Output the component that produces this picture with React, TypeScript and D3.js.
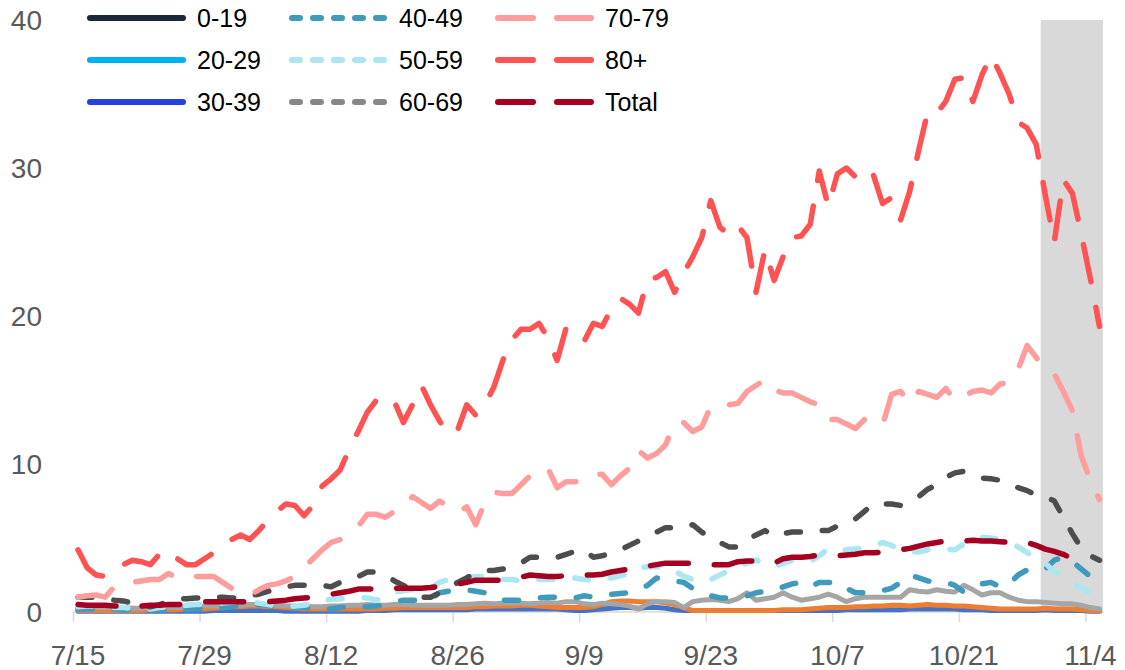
import React from 'react';
import * as d3 from 'd3';

// categories: one per day, 7/15 .. 11/5
const dates = d3
  .timeDay.range(new Date(2020, 6, 15), new Date(2020, 10, 6))
  .map(d3.timeFormat('%-m/%-d'));

const tickLabels = ['7/15', '7/29', '8/12', '8/26', '9/9', '9/23', '10/7', '10/21', '11/4'];
const yTicks = [0, 10, 20, 30, 40];
const shadedFrom = '10/30';

const age80 = [
  4.2, 3.0, 2.5, 2.4, 2.8, 3.2, 3.5, 3.4, 3.2, 3.9,
  4.2, 3.6, 3.2, 3.2, 3.6, 4.0, 4.4, 4.9, 5.2, 4.9,
  5.5, 6.2, 6.8, 7.3, 7.2, 6.5, 7.2, 8.5, 9.0, 9.6,
  11.0, 12.2, 13.5, 14.3, 14.6, 14.2, 12.8, 14.0, 15.3, 14.0,
  12.9, 12.0, 12.3, 14.0, 13.3, 14.0, 15.2, 17.0, 18.4, 19.1,
  19.1, 19.5, 18.5, 17.0, 19.2, 18.8, 18.3, 19.5, 19.3, 20.5,
  21.2, 20.8, 20.2, 22.5, 22.6, 23.0, 21.6, 22.9, 24.0, 25.3,
  27.8, 26.0, 25.5, 26.1, 25.3, 21.6, 24.5, 22.4, 24.0, 25.3,
  25.4, 26.2, 29.8, 27.4, 29.6, 30.0, 29.4, 28.9, 29.5, 27.6,
  28.0, 26.5, 28.4, 31.2, 33.8, 33.7, 34.5, 36.0, 36.1, 34.5,
  36.3, 37.6, 36.4, 35.0, 33.1, 32.7, 31.6, 28.2, 25.0, 29.2,
  28.3, 25.5, 22.5, 19.3,
];

const age7079 = [
  1.0, 1.1, 1.15, 1.0, 1.7, 2.0, 2.0, 2.1, 2.2, 2.2,
  2.6, 2.3, 2.4, 2.4, 2.4, 2.4, 2.0, 1.6, 1.4, 1.15,
  1.5, 1.8, 1.9, 2.1, 2.4, 3.0, 3.6, 4.2, 4.7, 4.9,
  5.3, 5.8, 6.6, 6.6, 6.4, 6.8, 7.0, 7.8, 7.4, 7.0,
  7.5, 7.1, 6.7, 7.1, 5.9, 7.4, 8.1, 8.0, 8.0, 8.6,
  9.2, 9.6, 9.7, 8.4, 8.8, 8.8, 8.9, 9.3, 9.3, 8.6,
  9.2, 9.7, 10.9, 10.4, 10.7, 11.3, 12.8, 12.8, 12.2, 12.5,
  13.9, 14.0, 14.0, 14.1, 14.9, 15.3, 15.7, 15.0, 14.8, 14.8,
  14.5, 14.2, 14.0, 13.0, 13.0, 12.7, 12.4, 13.0, 12.8, 12.6,
  14.7, 14.9, 14.1, 14.9, 14.7, 14.5, 15.1, 14.3, 14.6, 14.9,
  15.0, 14.8, 15.4, 15.5, 16.4, 18.0, 17.2, 16.4, 16.1, 14.9,
  13.6, 10.5, 8.9, 7.6,
];

const age6069 = [
  1.0, 1.0, 1.0, 0.9, 0.8, 0.75, 0.6, 0.4, 0.35, 0.5,
  0.7, 0.9, 0.9, 0.95, 0.95, 1.0, 1.0, 0.95, 0.95, 1.1,
  1.2, 1.4, 1.5, 1.7, 1.8, 1.8, 1.8, 1.8, 1.7, 2.0,
  2.2, 2.4, 2.7, 2.7, 2.5, 2.1, 1.8, 1.4, 1.0, 1.0,
  1.3, 1.6, 2.0, 2.3, 2.7, 2.8, 2.8, 2.9, 3.0, 3.3,
  3.7, 3.7, 3.65, 3.7, 3.9, 4.1, 4.2, 3.7, 3.8, 4.0,
  4.2, 4.5, 4.8, 5.1, 5.4, 5.7, 5.7, 5.7, 5.9, 5.4,
  5.0, 4.7, 4.4, 4.4, 4.9, 5.2, 5.5, 5.1, 5.3, 5.4,
  5.4, 5.4, 5.5, 5.5, 5.8, 6.0, 6.3, 6.8, 7.3, 7.3,
  7.3, 7.2, 7.5, 7.8, 8.3, 8.6, 9.1, 9.4, 9.5, 9.2,
  9.05, 9.0, 8.9, 8.7, 8.4, 8.2, 7.9, 7.8, 7.5, 6.4,
  5.3, 4.3, 3.8, 3.5,
];

const age5059 = [
  0.35, 0.4, 0.4, 0.35, 0.3, 0.3, 0.25, 0.15, 0.2, 0.3,
  0.35, 0.4, 0.45, 0.5, 0.5, 0.55, 0.6, 0.65, 0.7, 0.7,
  0.6, 0.5, 0.4, 0.35, 0.4, 0.45, 0.6, 0.8, 0.85, 0.9,
  0.95, 1.0, 0.95, 0.8, 1.0, 1.35, 1.45, 1.5, 1.5, 1.6,
  2.0, 2.2, 2.3, 2.35, 2.4, 2.4, 2.3, 2.2, 2.2, 2.1,
  2.15, 2.2, 2.2, 2.2, 2.25, 2.3, 2.2, 2.15, 2.15, 2.3,
  2.45, 2.6, 3.0, 3.05, 3.05, 3.05, 2.8, 2.4, 2.2, 2.0,
  2.2, 2.5, 2.8, 3.05, 3.3, 3.5, 3.3, 3.05, 3.3, 3.5,
  3.45, 3.4, 3.8, 4.3, 4.25, 4.2, 4.25, 4.3, 4.4, 4.7,
  4.5, 4.2, 4.1, 4.05, 4.2, 4.3, 4.25, 4.2, 4.6, 5.0,
  5.05, 5.0, 4.9, 4.7, 4.4, 4.0, 3.7, 3.3, 2.7, 2.5,
  2.0, 1.6, 1.3, 1.2,
];

const age4049 = [
  0.2, 0.2, 0.2, 0.2, 0.2, 0.15, 0.15, 0.15, 0.15, 0.15,
  0.15, 0.1, 0.15, 0.2, 0.2, 0.25, 0.3, 0.35, 0.45, 0.5,
  0.5, 0.45, 0.35, 0.3, 0.3, 0.3, 0.25, 0.2, 0.2, 0.3,
  0.35, 0.35, 0.35, 0.4, 0.5, 0.7, 0.8, 0.8, 0.75, 0.9,
  1.3, 1.4, 1.5, 1.5, 1.4, 1.3, 1.0, 0.8, 0.8, 0.8,
  0.85, 0.95, 1.0, 1.0, 1.0, 0.95, 1.1, 1.0, 1.1, 1.2,
  1.25, 1.3, 1.5, 1.8, 2.3, 2.15, 2.1, 2.0, 1.6, 1.35,
  1.1, 0.95, 0.95, 1.0, 1.1, 1.3, 1.4, 1.5, 1.7, 1.9,
  2.0, 1.7, 2.0, 2.0, 2.0, 1.6, 1.3, 1.3, 1.35, 1.45,
  1.6, 2.0, 2.5, 2.3, 2.1, 2.0, 2.0, 1.8, 1.35, 1.6,
  1.9, 2.0, 1.7, 1.9, 2.5, 2.85, 2.75, 2.9, 3.5, 3.7,
  3.4, 2.9, 2.4, 2.3,
];

const total = [
  0.5, 0.45, 0.45, 0.45, 0.4, 0.4, 0.4, 0.4, 0.45, 0.45,
  0.5, 0.5, 0.55, 0.6, 0.7, 0.7, 0.7, 0.7, 0.7, 0.7,
  0.7, 0.7, 0.75, 0.8, 0.9, 0.95, 1.0, 1.1, 1.2, 1.3,
  1.4, 1.55, 1.55, 1.55, 1.55, 1.6, 1.6, 1.6, 1.6, 1.65,
  1.75, 1.8, 1.9, 2.0, 2.15, 2.15, 2.15, 2.15, 2.2, 2.35,
  2.5, 2.45, 2.4, 2.4, 2.45, 2.45, 2.5, 2.5, 2.55, 2.7,
  2.8, 2.9, 3.0, 3.1, 3.2, 3.3, 3.3, 3.3, 3.3, 3.25,
  3.2, 3.2, 3.2, 3.4, 3.45, 3.45, 3.35, 3.3, 3.6, 3.7,
  3.7, 3.75, 3.85, 3.8, 3.8, 3.85, 3.9, 4.0, 4.0, 4.05,
  4.1, 4.2, 4.3, 4.45, 4.6, 4.7, 4.8, 4.8, 4.8, 4.85,
  4.8, 4.8, 4.75, 4.7, 4.7, 4.7, 4.5, 4.25, 4.1, 3.9,
  3.6, 2.9,
];

// unlabelled solid series drawn along the floor
const floorGray = [
  0.3, 0.3, 0.3, 0.3, 0.3, 0.3, 0.25, 0.25, 0.3, 0.3,
  0.3, 0.3, 0.3, 0.35, 0.4, 0.4, 0.4, 0.45, 0.45, 0.5,
  0.5, 0.45, 0.45, 0.4, 0.4, 0.4, 0.35, 0.35, 0.4, 0.4,
  0.45, 0.45, 0.5, 0.45, 0.45, 0.5, 0.5, 0.45, 0.45, 0.45,
  0.45, 0.45, 0.5, 0.5, 0.55, 0.6, 0.55, 0.6, 0.6, 0.6,
  0.55, 0.6, 0.65, 0.6, 0.7, 0.7, 0.55, 0.5, 0.6, 0.55,
  0.5, 0.4, 0.2, 0.55, 0.7, 0.7, 0.65, 0.3, 0.7, 0.8,
  0.85, 0.8, 0.7, 0.9, 1.3, 0.8, 0.9, 1.0, 1.3, 1.0,
  0.8, 0.9, 1.0, 1.2, 1.0, 0.7, 0.9, 1.0, 1.0, 1.0,
  1.0, 1.0, 1.5, 1.4, 1.35, 1.5, 1.4, 1.35, 1.8, 1.5,
  1.15, 1.3, 1.3, 1.0, 0.8, 0.7, 0.7, 0.65, 0.6, 0.55,
  0.55, 0.45, 0.3, 0.2,
];

const floorOrange = [
  0.1, 0.1, 0.1, 0.1, 0.1, 0.1, 0.1, 0.1, 0.15, 0.15,
  0.15, 0.15, 0.2, 0.2, 0.2, 0.25, 0.3, 0.35, 0.35, 0.4,
  0.4, 0.35, 0.35, 0.3, 0.25, 0.2, 0.2, 0.2, 0.2, 0.2,
  0.2, 0.2, 0.2, 0.2, 0.25, 0.25, 0.3, 0.3, 0.3, 0.3,
  0.3, 0.3, 0.3, 0.3, 0.35, 0.35, 0.4, 0.4, 0.4, 0.45,
  0.45, 0.4, 0.35, 0.3, 0.3, 0.3, 0.3, 0.35, 0.5, 0.7,
  0.75, 0.75, 0.7, 0.7, 0.7, 0.6, 0.5, 0.3, 0.1, 0.1,
  0.1, 0.1, 0.1, 0.1, 0.1, 0.1, 0.1, 0.1, 0.15, 0.15,
  0.15, 0.2, 0.25, 0.3, 0.3, 0.3, 0.35, 0.35, 0.4, 0.4,
  0.45, 0.45, 0.4, 0.45, 0.5, 0.45, 0.45, 0.4, 0.4, 0.35,
  0.3, 0.25, 0.2, 0.2, 0.2, 0.2, 0.2, 0.25, 0.2, 0.2,
  0.2, 0.15, 0.1, 0.05,
];

const floorBlue = [
  0.05, 0.05, 0.05, 0.05, 0.05, 0.05, 0.05, 0.05, 0.05, 0.05,
  0.05, 0.05, 0.05, 0.05, 0.05, 0.1, 0.1, 0.1, 0.1, 0.1,
  0.1, 0.1, 0.1, 0.05, 0.05, 0.05, 0.05, 0.05, 0.05, 0.05,
  0.05, 0.05, 0.1, 0.1, 0.1, 0.15, 0.15, 0.15, 0.15, 0.15,
  0.15, 0.15, 0.15, 0.15, 0.2, 0.2, 0.2, 0.2, 0.2, 0.2,
  0.2, 0.2, 0.2, 0.2, 0.15, 0.1, 0.1, 0.15, 0.2, 0.25,
  0.3, 0.3, 0.25, 0.3, 0.3, 0.25, 0.15, 0.1, 0.1, 0.1,
  0.1, 0.1, 0.1, 0.1, 0.1, 0.1, 0.1, 0.1, 0.1, 0.1,
  0.1, 0.1, 0.1, 0.1, 0.1, 0.15, 0.15, 0.15, 0.15, 0.15,
  0.15, 0.15, 0.2, 0.2, 0.2, 0.2, 0.2, 0.2, 0.15, 0.15,
  0.15, 0.1, 0.1, 0.1, 0.1, 0.1, 0.1, 0.15, 0.1, 0.1,
  0.1, 0.1, 0.05, 0.05,
];

// dash patterns in the plot run longer than in the legend keys
const LONG = '38 26';
const SHORT = '14 22';

const plotted = [
  { values: floorBlue, color: '#4472C4', dash: undefined, width: 5 },
  { values: floorOrange, color: '#ED7D31', dash: undefined, width: 5 },
  { values: floorGray, color: '#A5A5A5', dash: undefined, width: 5 },
  { values: age4049, color: '#3F9ABB', dash: SHORT, width: 5.5 },
  { values: age5059, color: '#ABE6F1', dash: SHORT, width: 5.5 },
  { values: age6069, color: '#4D4D4D', dash: SHORT, width: 5.5 },
  { values: age7079, color: '#FF9C9C', dash: LONG, width: 5.5 },
  { values: age80, color: '#FF5252', dash: LONG, width: 5.5 },
  { values: total, color: '#A50021', dash: LONG, width: 5.5 },
];

const legendItems = [
  { name: '0-19', color: '#1B2838', dash: undefined },
  { name: '20-29', color: '#00B0F0', dash: undefined },
  { name: '30-39', color: '#2440E0', dash: undefined },
  { name: '40-49', color: '#3F9ABB', dash: '8 13' },
  { name: '50-59', color: '#ABE6F1', dash: '8 13' },
  { name: '60-69', color: '#878787', dash: '8 13' },
  { name: '70-79', color: '#FF9C9C', dash: '35 24' },
  { name: '80+', color: '#FF5252', dash: '35 24' },
  { name: 'Total', color: '#A50021', dash: '35 24' },
];

const W = 1125;
const H = 670;
const AXIS_FONT = '"Liberation Sans", Arial, sans-serif';

export default function App() {
  const x = d3.scaleBand<string>().domain(dates).range([73.5, 1104]).padding(0);
  const bw = x.bandwidth();
  const y = d3.scaleLinear().domain([0, 40]).range([612, 20]);

  const line = d3
    .line<number>()
    .x((_, i) => (x(dates[i]) as number) + bw / 2)
    .y((v) => y(v))
    .curve(d3.curveLinear);

  const shadeX = x(shadedFrom) as number;

  return (
    <svg width={W} height={H} style={{ position: 'absolute', left: 0, top: 0, background: '#fff' }}>
      <rect x={shadeX} y={y(40)} width={1103 - shadeX} height={y(0) - y(40)} fill="#D9D9D9" />

      {/* x axis */}
      <line x1={73.5} x2={1104} y1={y(0)} y2={y(0)} stroke="#D9D9D9" strokeWidth={1.5} />
      {tickLabels.map((t) => {
        const x0 = x(t) as number;
        return (
          <g key={t}>
            <line x1={x0} x2={x0} y1={y(0)} y2={y(0) + 10} stroke="#D9D9D9" strokeWidth={1.5} />
            <text
              x={x0 + bw / 2}
              y={665}
              textAnchor="middle"
              fontFamily={AXIS_FONT}
              fontSize={28}
              fill="#595959"
            >
              {t}
            </text>
          </g>
        );
      })}

      {/* y axis labels */}
      {yTicks.map((t) => (
        <text
          key={t}
          x={42}
          y={y(t)}
          dy="0.36em"
          textAnchor="end"
          fontFamily={AXIS_FONT}
          fontSize={28}
          fill="#595959"
        >
          {t}
        </text>
      ))}

      {/* series */}
      {plotted.map((s, i) => (
        <path
          key={i}
          d={line(s.values) ?? ''}
          fill="none"
          stroke={s.color}
          strokeWidth={s.width}
          strokeDasharray={s.dash}
          strokeLinecap="round"
          strokeLinejoin="round"
        />
      ))}

      {/* legend */}
      {legendItems.map((item, i) => {
        const col = Math.floor(i / 3);
        const row = i % 3;
        const lx = [90, 292, 498][col];
        const ly = 18 + row * 42;
        return (
          <g key={item.name}>
            <line
              x1={lx}
              x2={lx + 93}
              y1={ly}
              y2={ly}
              stroke={item.color}
              strokeWidth={6}
              strokeDasharray={item.dash}
              strokeLinecap="round"
            />
            <text
              x={lx + 107}
              y={ly}
              dy="0.36em"
              fontFamily={AXIS_FONT}
              fontSize={25}
              fill="#000"
            >
              {item.name}
            </text>
          </g>
        );
      })}
    </svg>
  );
}
